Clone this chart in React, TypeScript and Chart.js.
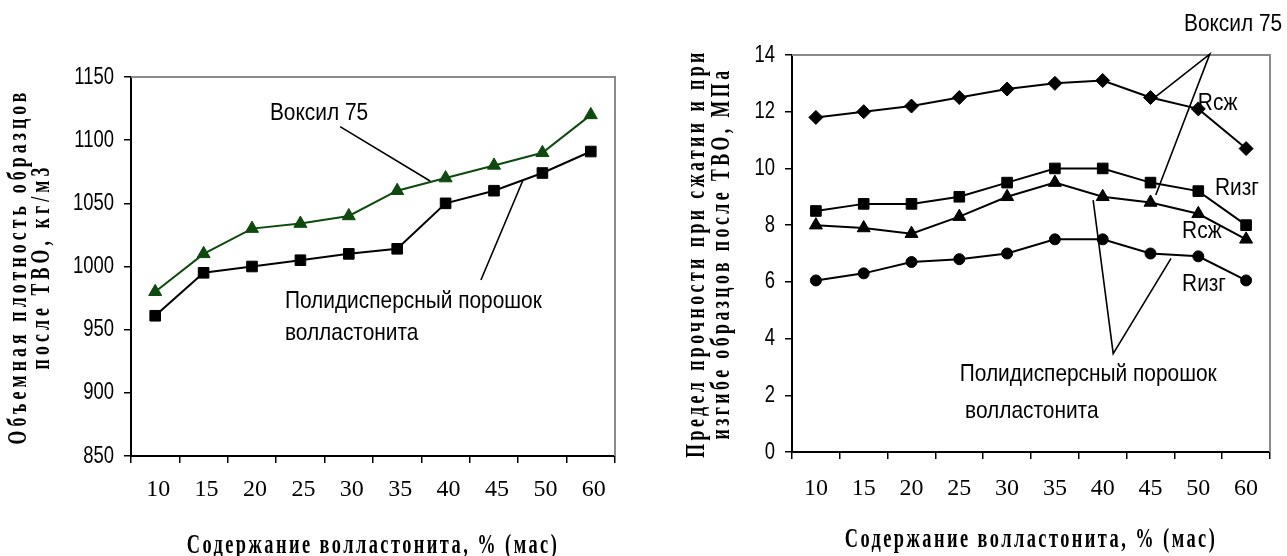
import React, { useEffect, useRef } from 'react';
import { Chart, registerables } from 'chart.js';

Chart.register(...registerables);

// ---------- data ----------
const categories = ['10', '15', '20', '25', '30', '35', '40', '45', '50', '60'];

// left chart: bulk density, kg/m3
const densityVoxil = [980, 1010, 1030, 1034, 1040, 1060, 1070, 1080, 1090, 1120];
const densityPowder = [961, 995, 1000, 1005, 1010, 1014, 1050, 1060, 1074, 1091];
const densityTicks = [850, 900, 950, 1000, 1050, 1100, 1150];

// right chart: strength, MPa
const compressionVoxil = [11.8, 12.0, 12.2, 12.5, 12.8, 13.0, 13.1, 12.5, 12.1, 10.7];
const bendingVoxil = [8.5, 8.75, 8.75, 9.0, 9.5, 10.0, 10.0, 9.5, 9.2, 8.0];
const compressionPowder = [8.0, 7.9, 7.7, 8.3, 9.0, 9.5, 9.0, 8.8, 8.4, 7.5];
const bendingPowder = [6.05, 6.3, 6.7, 6.8, 7.0, 7.5, 7.5, 7.0, 6.9, 6.05];
const strengthTicks = [0, 2, 4, 6, 8, 10, 12, 14];

const xTitle = 'Содержание волластонита, % (мас)';
const densityTitle = ['Объемная плотность образцов', 'после ТВО, кг/м3'];
const strengthTitle = ['Предел прочности при сжатии и при', 'изгибе образцов после ТВО, МПа'];

// annotations in data coordinates (category index, value)
const densityNotes = [
  { text: 'Воксил 75', x: 2.37, y: 1121.5 },
  { text: 'Полидисперсный порошок', x: 2.68, y: 972.7 },
  { text: 'волластонита', x: 2.68, y: 947.4 },
];
const densityLeaders = [
  [[3.82, 1110.7], [5.68, 1067.7]],
  [[6.73, 989.3], [7.6, 1068.5]],
];
const strengthNotes = [
  { text: 'Воксил 75', x: 7.7, y: 15.09 },
  { text: 'Rсж', x: 7.99, y: 12.29 },
  { text: 'Rизг', x: 8.35, y: 9.29 },
  { text: 'Rсж', x: 7.66, y: 7.77 },
  { text: 'Rизг', x: 7.66, y: 5.92 },
  { text: 'Полидисперсный порошок', x: 3.01, y: 2.74 },
  { text: 'волластонита', x: 3.12, y: 1.44 },
];
const strengthLeaders = [
  [[7.11, 12.53], [8.24, 14.03], [7.11, 9.06]],
  [[5.8, 8.88], [6.22, 3.47], [7.43, 6.83]],
];

// ---------- styling helpers ----------
const GREEN = '#0d4a0d';
const SANS_TICK = '"Liberation Sans", sx77';
const SANS_NOTE = '"Liberation Sans", sx87';
const SERIF_TITLE = '"Liberation Serif", sx66, ls62';
const SERIF_TITLE_R = '"Liberation Serif", sx66, ls52';
const SERIF_XTITLE = '"Liberation Serif", sx68, ls36';

// condensed / letter-spaced text via markers in the font family list
function patchContext(ctx: any) {
  if (ctx.__patched) return;
  ctx.__patched = true;
  const orig = ctx.fillText;
  ctx.fillText = function (text: string, x: number, y: number, maxWidth?: number) {
    const f: string = this.font || '';
    const m = /\bsx(\d+)/.exec(f);
    const l = /\bls(\d+)/.exec(f);
    if (!m && !l) {
      return maxWidth === undefined ? orig.call(this, text, x, y) : orig.call(this, text, x, y, maxWidth);
    }
    const sx = m ? parseInt(m[1], 10) / 100 : 1;
    this.save();
    if (l && 'letterSpacing' in this) this.letterSpacing = parseInt(l[1], 10) / 10 + 'px';
    this.translate(x, y);
    this.scale(sx, 1);
    orig.call(this, text, 0, 0);
    this.restore();
  };
}

function framePlugin() {
  return {
    id: 'frame',
    beforeDatasetsDraw(chart: any) {
      const { ctx, chartArea: a } = chart;
      ctx.save();
      ctx.strokeStyle = '#8a8a8a';
      ctx.lineWidth = 2;
      ctx.beginPath();
      ctx.moveTo(a.left, a.top);
      ctx.lineTo(a.right, a.top);
      ctx.lineTo(a.right, a.bottom);
      ctx.stroke();
      ctx.restore();
    },
  };
}

function notesPlugin(notes: any[], leaders: number[][][]) {
  return {
    id: 'notes',
    afterDatasetsDraw(chart: any) {
      const { ctx } = chart;
      const xs = chart.scales.x;
      const ys = chart.scales.y;
      ctx.save();
      ctx.strokeStyle = '#000';
      ctx.lineWidth = 1.6;
      for (const pts of leaders) {
        ctx.beginPath();
        pts.forEach((p, i) => {
          const px = xs.getPixelForValue(p[0]);
          const py = ys.getPixelForValue(p[1]);
          if (i === 0) ctx.moveTo(px, py);
          else ctx.lineTo(px, py);
        });
        ctx.stroke();
      }
      ctx.fillStyle = '#000';
      ctx.font = '24px ' + SANS_NOTE;
      ctx.textAlign = 'left';
      ctx.textBaseline = 'middle';
      for (const n of notes) {
        ctx.fillText(n.text, xs.getPixelForValue(n.x), ys.getPixelForValue(n.y));
      }
      ctx.restore();
    },
  };
}

function makeConfig(opts: {
  datasets: any[];
  ticks: number[];
  yTitle: string[];
  yTitleFont: string;
  yTitleLine: number;
  yTitlePad: number;
  pad: { top: number; right: number };
  yWidth: number;
  xHeight: number;
  xLabelPad: number;
  xLabelOffset: number;
  xTitlePad: number;
  notes: any[];
  leaders: number[][][];
}) {
  const ticks = opts.ticks;
  return {
    type: 'line',
    data: { labels: categories, datasets: opts.datasets },
    options: {
      responsive: false,
      animation: false,
      events: [],
      layout: { padding: { left: 0, top: opts.pad.top, right: opts.pad.right, bottom: 0 } },
      plugins: { legend: { display: false }, tooltip: { enabled: false } },
      scales: {
        x: {
          type: 'category',
          offset: true,
          grid: {
            display: true,
            offset: true,
            drawOnChartArea: false,
            drawTicks: true,
            tickLength: 7,
            color: '#000',
            lineWidth: 1.5,
          },
          border: { display: true, color: '#000', width: 2 },
          ticks: {
            color: '#000',
            font: { family: '"Liberation Serif"', size: 24 },
            padding: opts.xLabelPad,
            labelOffset: opts.xLabelOffset,
            autoSkip: false,
            maxRotation: 0,
          },
          title: {
            display: true,
            text: xTitle,
            color: '#000',
            font: { family: SERIF_XTITLE, size: 27, weight: 'bold', lineHeight: '20px' },
            padding: { top: 0, bottom: opts.xTitlePad },
          },
          afterFit: (s: any) => {
            s.height = opts.xHeight;
          },
        },
        y: {
          type: 'linear',
          min: ticks[0],
          max: ticks[ticks.length - 1],
          grid: {
            display: true,
            drawOnChartArea: false,
            drawTicks: true,
            tickLength: 7,
            color: '#000',
            lineWidth: 1.5,
          },
          border: { display: true, color: '#000', width: 2 },
          afterBuildTicks: (s: any) => {
            s.ticks = ticks.map((v) => ({ value: v }));
          },
          ticks: {
            color: '#000',
            font: { family: SANS_TICK, size: 24 },
            padding: 10,
            autoSkip: false,
            callback: (v: any) => String(v),
          },
          title: {
            display: true,
            text: opts.yTitle,
            color: '#000',
            font: { family: opts.yTitleFont, size: 27, weight: 'bold', lineHeight: opts.yTitleLine + 'px' },
            padding: { top: opts.yTitlePad, bottom: 0 },
          },
          afterFit: (s: any) => {
            s.width = opts.yWidth;
          },
        },
      },
    },
    plugins: [framePlugin(), notesPlugin(opts.notes, opts.leaders)],
  };
}

function series(label: string, data: number[], color: string, style: string, radius: number) {
  return {
    label,
    data,
    borderColor: color,
    backgroundColor: color,
    borderWidth: 2,
    tension: 0,
    pointStyle: style,
    pointRadius: radius,
    pointBorderWidth: 1,
    pointBorderColor: color,
    pointBackgroundColor: color,
  };
}

function ChartCanvas({ left, width, config }: { left: number; width: number; config: () => any }) {
  const ref = useRef<HTMLCanvasElement>(null);
  useEffect(() => {
    const canvas = ref.current!;
    const ctx = canvas.getContext('2d')!;
    patchContext(ctx);
    const chart = new Chart(ctx, config() as any);
    return () => chart.destroy();
  }, []);
  return (
    <canvas
      ref={ref}
      width={width}
      height={556}
      style={{ position: 'absolute', left, top: 0, width, height: 556, display: 'block' }}
    />
  );
}

export default function App() {
  const densityConfig = () =>
    makeConfig({
      datasets: [
        series('Воксил 75', densityVoxil, GREEN, 'triangle', 7.5),
        series('Полидисперсный порошок волластонита', densityPowder, '#000', 'rect', 7.5),
      ],
      ticks: densityTicks,
      yTitle: densityTitle,
      yTitleFont: SERIF_TITLE,
      yTitleLine: 23,
      yTitlePad: 7.5,
      pad: { top: 77, right: 25 },
      yWidth: 131,
      xHeight: 100,
      xLabelPad: 12,
      xLabelOffset: 3,
      xTitlePad: 0,
      notes: densityNotes,
      leaders: densityLeaders,
    });
  const strengthConfig = () =>
    makeConfig({
      datasets: [
        series('Воксил 75 Rсж', compressionVoxil, '#000', 'rectRot', 7),
        series('Воксил 75 Rизг', bendingVoxil, '#000', 'rect', 7.5),
        series('Полидисперсный порошок Rсж', compressionPowder, '#000', 'triangle', 7.5),
        series('Полидисперсный порошок Rизг', bendingPowder, '#000', 'circle', 5.5),
      ],
      ticks: strengthTicks,
      yTitle: strengthTitle,
      yTitleFont: SERIF_TITLE_R,
      yTitleLine: 25,
      yTitlePad: 44.5,
      pad: { top: 55, right: 17 },
      yWidth: 152,
      xHeight: 104,
      xLabelPad: 15.5,
      xLabelOffset: 0,
      xTitlePad: 6,
      notes: strengthNotes,
      leaders: strengthLeaders,
    });
  return (
    <div style={{ position: 'fixed', left: 0, top: 0, width: 1287, height: 556, background: '#fff' }}>
      <ChartCanvas left={0} width={640} config={densityConfig} />
      <ChartCanvas left={640} width={647} config={strengthConfig} />
    </div>
  );
}
